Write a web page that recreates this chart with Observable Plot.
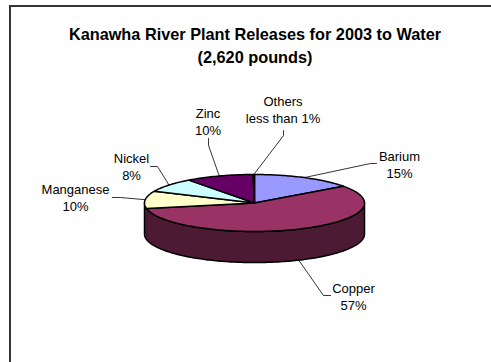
<!DOCTYPE html>
<html><head><meta charset="utf-8">
<script src="https://cdn.jsdelivr.net/npm/d3@7"></script>
<script src="https://cdn.jsdelivr.net/npm/@observablehq/plot@0.6"></script>
<style>
html,body{margin:0;padding:0;background:#fff;overflow:hidden}
#wrap{position:relative;width:491px;height:362px;overflow:hidden}
#frame{position:absolute;left:9px;top:5px;width:490px;height:370px;border-left:2px solid #333;border-top:2px solid #333;pointer-events:none}
#title{position:absolute;left:0;top:23px;width:441px;height:50px;overflow:hidden;font:bold 16.3px/23px "Liberation Sans",Arial,sans-serif;color:#000}
#title div{width:510px;text-align:center;white-space:nowrap}
</style></head><body>
<div id="wrap">
<div id="plot"></div>
<div id="frame"></div>
<div id="title"><div>Kanawha River Plant Releases for 2003 to Water</div><div>(2,620 pounds)</div></div>
</div>
<script>
const names = ["Barium","Copper","Manganese","Nickel","Zinc","Others"];
const values = [15,57,10,8,10,0.2];
const valueLabels = ["15%","57%","10%","8%","10%","less than 1%"];
const colors = ["#9999FF","#993366","#FFFFCC","#CCFFFF","#660066","#CC99FF"];
const sideColor = "#4d1a33";
// label centres and leader elbows/ends, in pie-radius units
const labelX = [1.318,0.9,-1.627,-1.118,-0.423,0.259];
const labelY = [1.368,-3.263,0.21,1.281,2.877,3.298];
const elbowX = [1.055,0.627,-1.218,-0.882,-0.418,0.264];
const elbowY = [1.386,-3.246,0.193,1.281,2.018,2.368];
const endX = [1.109,0.691,-1.291,-0.945,-0.418,0.264];
const endY = [1.386,-3.246,0.193,1.281,2.263,2.544];
const depth = 1.09;

const total = d3.sum(values);
const tau = 2*Math.PI;
let acc = 0;
const slices = names.map((name,i)=>{
  const a0 = acc/total*tau; acc += values[i]; const a1 = acc/total*tau;
  return {name,i,a0,a1,mid:(a0+a1)/2};
});
const rim = (t,dy=0)=>({x:Math.sin(t),y:Math.cos(t)-dy});
const arc = (a0,a1,dy=0)=>{
  const n = Math.max(2,Math.ceil((a1-a0)/0.02));
  return d3.range(n+1).map(k=>rim(a0+(a1-a0)*k/n,dy));
};
const tops = slices.flatMap(s=>{
  const p=[{x:0,y:0},...arc(s.a0,s.a1),{x:0,y:0}];
  return p.map(q=>({...q,id:s.name,fill:colors[s.i]}));
});
const a90=Math.PI/2, a270=Math.PI*3/2;
const sidePts=[...arc(a90,a270),...arc(a90,a270,depth).reverse()];
sidePts.push(sidePts[0]);
const sides = sidePts.map(q=>({...q,id:"side",fill:sideColor}));
const leaders = slices.flatMap(s=>{
  const front = Math.cos(s.mid)<0;
  const start = rim(s.mid, front?depth:0);
  return [start,{x:elbowX[s.i],y:elbowY[s.i]},{x:endX[s.i],y:endY[s.i]}].map(q=>({...q,id:s.name}));
});
const labels = slices.map(s=>({x:labelX[s.i],y:labelY[s.i],text:names[s.i]+"\n"+valueLabels[s.i]}));

const chart = Plot.plot({
  width:491,height:362,margin:0,
  style:{background:"transparent"},
  x:{axis:null,domain:[-1,1],range:[144,364]},
  y:{axis:null,domain:[-1,1],range:[231,174]},
  marks:[
    Plot.line(sides,{x:"x",y:"y",z:"id",fill:"fill",stroke:"#000",strokeWidth:1.5,curve:"linear"}),
    Plot.line(tops,{x:"x",y:"y",z:"id",fill:"fill",stroke:"#000",strokeWidth:1.5,curve:"linear"}),
    Plot.line(leaders,{x:"x",y:"y",z:"id",stroke:"#000",strokeWidth:0.8,curve:"linear"}),
    Plot.text(labels,{x:"x",y:"y",text:"text",fontSize:13,lineHeight:1.31,fill:"#000",fontFamily:"Liberation Sans, Arial, sans-serif"})
  ]
});
document.getElementById("plot").append(chart);
</script>
</body></html>
